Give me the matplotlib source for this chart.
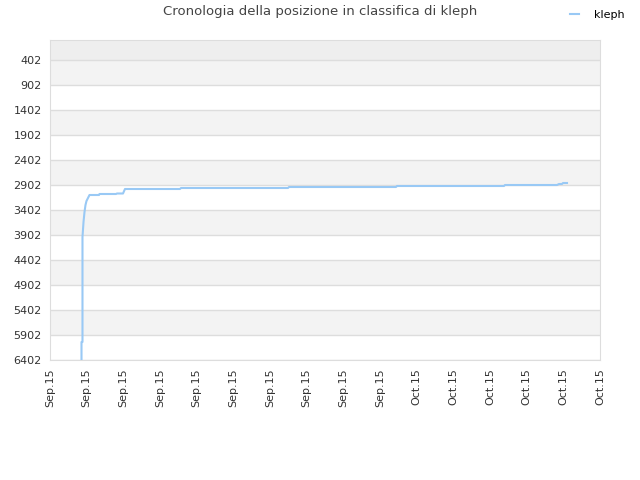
import matplotlib
matplotlib.use("Agg")
import matplotlib.pyplot as plt

title = "Cronologia della posizione in classifica di kleph"
series_name = "kleph"
x_vals = [0.859, 0.859, 0.886, 0.886, 0.914, 0.941, 0.968, 0.995, 1.036, 1.077,
          1.336, 1.35, 1.8, 1.827, 1.991, 2.045, 3.545, 3.573, 6.491, 6.518,
          9.436, 9.464, 12.382, 12.409, 13.827, 13.882, 13.964, 13.991, 14.1]
ranks = [6402, 6042, 6042, 3942, 3642, 3442, 3302, 3222, 3162, 3102,
         3102, 3082, 3082, 3072, 3072, 2982, 2982, 2962, 2962, 2942,
         2942, 2922, 2922, 2902, 2902, 2882, 2882, 2862, 2862]
y_ticks = [402, 902, 1402, 1902, 2402, 2902, 3402, 3902, 4402, 4902, 5402, 5902, 6402]
x_tick_labels = ["Sep.15"] * 10 + ["Oct.15"] * 6

fig = plt.figure(figsize=(6.4, 4.8), dpi=100)
ax = fig.add_axes([50/640, 120/480, 550/640, 320/480])

ymin, ymax = 2, 6402
ax.set_ylim(ymax, ymin)
ax.set_xlim(0, len(x_tick_labels) - 1)

# background bands
ax.axhspan(ymin, y_ticks[0], color="#eeeeee", zorder=0, lw=0)
for i in range(len(y_ticks) - 1):
    if i % 2 == 0:
        ax.axhspan(y_ticks[i], y_ticks[i + 1], color="#f3f3f3", zorder=0, lw=0)
for yt in y_ticks:
    ax.axhline(yt, color="#dddddd", lw=1, zorder=1)

ax.plot(x_vals, ranks, color="#99c9f5", lw=1.5, zorder=3, label=series_name)

ax.set_yticks(y_ticks)
ax.set_yticklabels([str(v) for v in y_ticks])
ax.set_xticks(range(len(x_tick_labels)))
ax.set_xticklabels(x_tick_labels, rotation=90)
ax.tick_params(axis="both", length=0, labelsize=8, colors="#333333", pad=6)
for sp in ax.spines.values():
    sp.set_color("#dddddd")

fig.text(0.5, 1 - 12/480, title, ha="center", va="center", fontsize=9.5, color="#444444")
leg = fig.legend(loc="upper right", bbox_to_anchor=(1.0 - 5/640, 1.0), frameon=False,
                 fontsize=8, handlelength=0.8, handletextpad=1.4)
fig.savefig("out.png", dpi=100)
